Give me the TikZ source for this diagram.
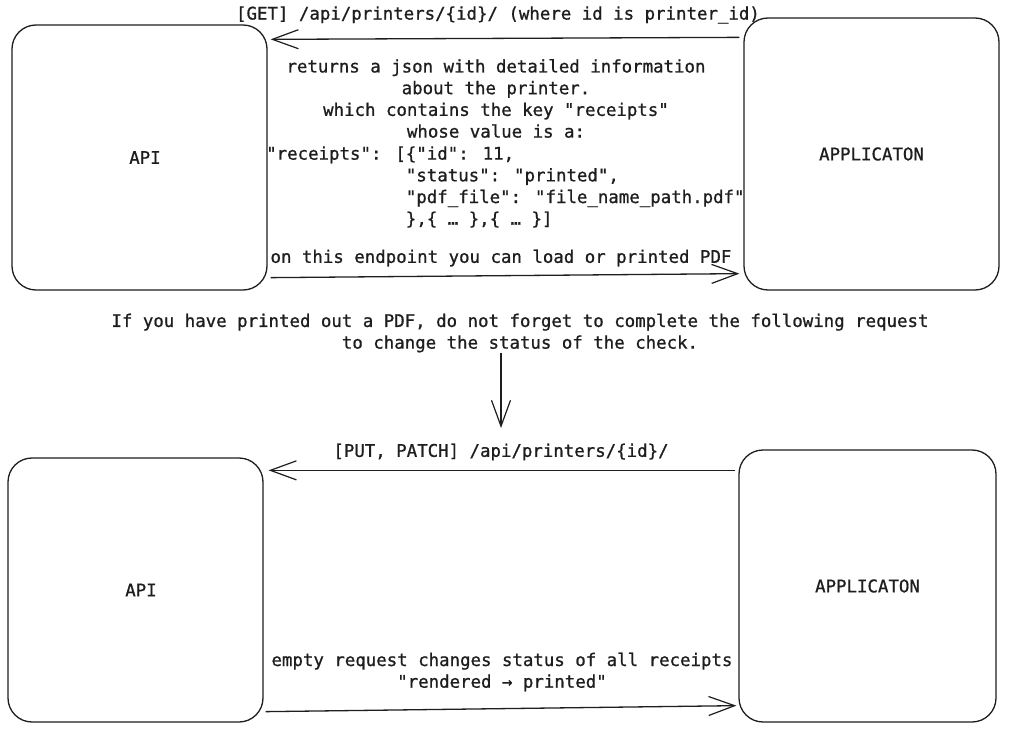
\documentclass[tikz,border=0pt]{standalone}
\usepackage{fontspec}
\newfontfamily\monof[FakeBold=0.9]{DejaVu Sans Mono}
\usetikzlibrary{arrows.meta}
\definecolor{ink}{HTML}{1E1E1E}
\tikzset{
  box/.style={draw=ink, line width=1.3pt, rounded corners=24pt, inner sep=0pt,
    minimum width=255pt, font=\monof\fontsize{17.4}{21.7}\selectfont, text=ink},
  txt/.style={inner sep=0pt, font=\monof\fontsize{17.4}{21.7}\selectfont, text=ink},
  arr/.style={draw=ink, line width=1.3pt, -{Straight Barb[length=26pt,width=19pt,line width=1.2pt]}}
}
\begin{document}
\begin{tikzpicture}[x=1pt,y=-1pt]
\useasboundingbox[fill=white] (0,0) rectangle (1010,730);
% boxes
\node[box, minimum height=265pt] (api1) at (139.5,157.5) {\hspace*{11pt}API};
\node[box, minimum height=272pt] (app1) at (871.5,154) {APPLICATON};
\node[box, minimum height=264pt] (api2) at (135.5,590) {\hspace*{11pt}API};
\node[box, minimum width=257pt, minimum height=272pt] (app2) at (867.5,586) {APPLICATON};
% top section
\node[txt] (getlbl) at (498,15) {[GET] /api/printers/\{id\}/ (where id is printer\_id)};
\draw[arr] ([xshift=-4pt,yshift=-20pt]app1.north west) -- ([xshift=3pt,yshift=-15pt]api1.north east);
\node[txt, align=center] (jsonA) at (496,98.5) {returns a json with detailed information\\about the printer.\\which contains the key "receipts"\\whose value is a:};
\node[txt, align=left, anchor=west] (jsonB) at (266,187) {"receipts": [\{"id": 11,\\\hphantom{"receipts": [}"status": "printed",\\\hphantom{"receipts": [}"pdf\_file": "file\_name\_path.pdf"\\\hphantom{"receipts": [}\},\{ … \},\{ … \}]};
\node[txt] (loadlbl) at (501,258) {on this endpoint you can load or printed PDF};
\draw[arr] ([xshift=3pt,yshift=13pt]api1.south east) -- ([xshift=-4pt,yshift=17pt]app1.south west);
% middle
\node[txt, align=center] (mid) at (520,333) {If you have printed out a PDF, do not forget to complete the following request\\to change the status of the check.};
\coordinate (downend) at (501,428);
\draw[arr] (mid.south -| downend) -- (downend);
% bottom section
\node[txt] (putlbl) at (501,452) {[PUT, PATCH] /api/printers/\{id\}/};
\draw[arr] ([xshift=-3pt,yshift=-21pt]app2.north west) -- ([xshift=5pt,yshift=-13pt]api2.north east);
\node[txt, align=center] (emptylbl) at (502,672) {empty request changes status of all receipts\\"rendered → printed"};
\draw[arr] ([xshift=2pt,yshift=11pt]api2.south east) -- ([xshift=-2pt,yshift=17pt]app2.south west);
\end{tikzpicture}
\end{document}
